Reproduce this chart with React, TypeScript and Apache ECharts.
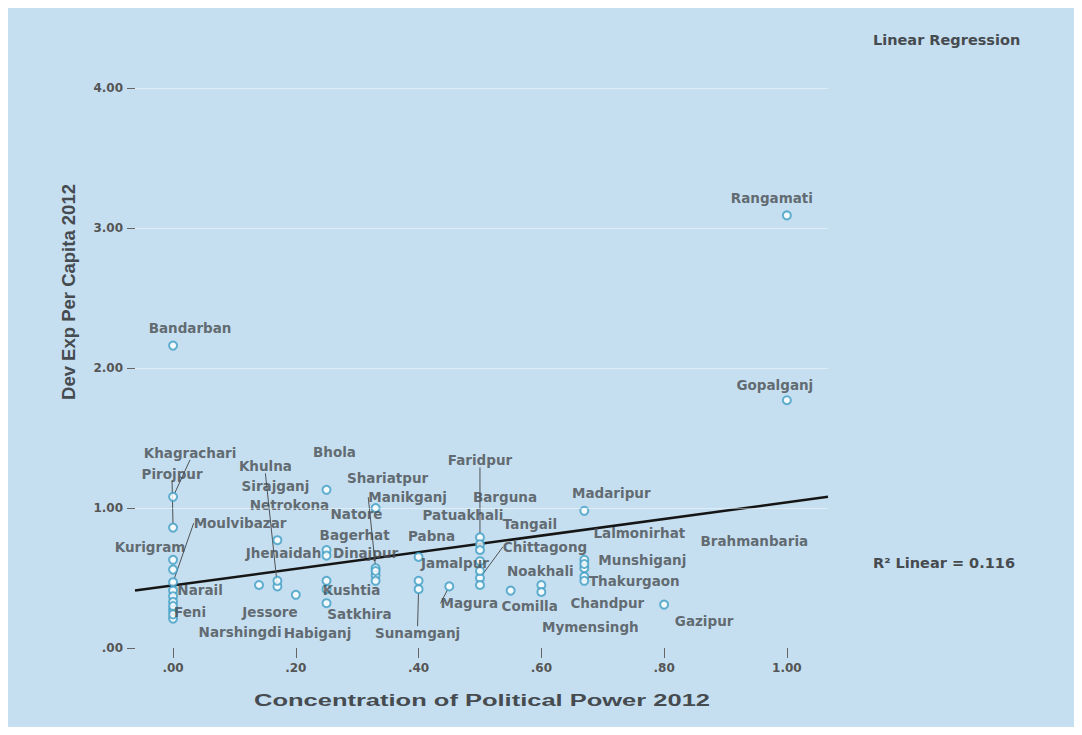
import React, { useEffect, useRef } from "react";
import * as echarts from "echarts";

// District names, x = concentration of political power, y = dev exp per capita
const districts = [
  "Bandarban", "Khagrachari", "Pirojpur", "Kurigram", "Moulvibazar", "", "Narail", "", "", "Feni", "", "Narshingdi", "",
  "Jessore", "Sirajganj", "Khulna", "Netrokona", "",
  "Bhola", "Natore", "Jhenaidah", "Kushtia", "Satkhira", "Habiganj",
  "Shariatpur", "Manikganj", "Bagerhat", "Dinajpur", "",
  "Pabna", "Sunamganj", "",
  "Magura",
  "Faridpur", "Patuakhali", "Barguna", "Tangail", "Chittagong", "Jamalpur", "",
  "Comilla", "Noakhali", "Mymensingh",
  "Madaripur", "Lalmonirhat", "Munshiganj", "Thakurgaon", "Brahmanbaria", "Chandpur",
  "Gazipur", "Rangamati", "Gopalganj",
];
const powerVals = [
  0, 0, 0, 0, 0, 0, 0, 0, 0, 0, 0, 0, 0,
  0.14, 0.17, 0.17, 0.17, 0.2,
  0.25, 0.25, 0.25, 0.25, 0.25, 0.25,
  0.33, 0.33, 0.33, 0.33, 0.33,
  0.4, 0.4, 0.4,
  0.45,
  0.5, 0.5, 0.5, 0.5, 0.5, 0.5, 0.5,
  0.55, 0.6, 0.6,
  0.67, 0.67, 0.67, 0.67, 0.67, 0.67,
  0.8, 1.0, 1.0,
];
const devExpVals = [
  2.16, 1.08, 0.86, 0.63, 0.47, 0.56, 0.41, 0.37, 0.33, 0.27, 0.30, 0.21, 0.24,
  0.45, 0.77, 0.44, 0.48, 0.38,
  1.13, 0.70, 0.66, 0.48, 0.42, 0.32,
  1.0, 0.57, 0.52, 0.48, 0.55,
  0.65, 0.42, 0.48,
  0.44,
  0.79, 0.74, 0.70, 0.62, 0.50, 0.45, 0.55,
  0.41, 0.45, 0.40,
  0.98, 0.63, 0.57, 0.51, 0.60, 0.48,
  0.31, 3.09, 1.77,
];
// Fit line end points
const fitLine = [[-0.062, 0.41], [1.067, 1.08]];
const xTicks = [0, 0.2, 0.4, 0.6, 0.8, 1];
const yTicks = [0, 1, 2, 3, 4];
const rSquared = "0.116";

// Label layout (offsets of label centre from point, px) and leader lines
const labelOffsets: Record<string, [number, number, boolean?]> = {
  Bandarban: [17, -18],
  Khagrachari: [17, -44, true],
  Pirojpur: [-1, -54, true],
  Kurigram: [-23, -13],
  Moulvibazar: [67, -59, true],
  Narail: [27, -1],
  Feni: [17, 2],
  Narshingdi: [67, 13],
  Jessore: [11, 27],
  Sirajganj: [-2, -54],
  Khulna: [-12, -120, true],
  Netrokona: [12, -76],
  Bhola: [8, -38],
  Natore: [30, -36],
  Jhenaidah: [-43, -3],
  Kushtia: [25, 9],
  Satkhira: [33, 25],
  Habiganj: [-9, 30],
  Shariatpur: [12, -30],
  Manikganj: [32, -71, true],
  Bagerhat: [-21, -40],
  Dinajpur: [-10, -28],
  Pabna: [13, -21],
  Sunamganj: [-1, 44, true],
  Magura: [20, 17, true],
  Faridpur: [0, -77, true],
  Patuakhali: [-17, -29],
  Barguna: [25, -53],
  Tangail: [50, -37],
  Chittagong: [65, -31, true],
  Jamalpur: [-25, -22],
  Comilla: [19, 15],
  Noakhali: [-1, -14],
  Mymensingh: [49, 35],
  Madaripur: [27, -18],
  Lalmonirhat: [55, -27],
  Munshiganj: [58, -8],
  Thakurgaon: [50, 4],
  Brahmanbaria: [170, -23],
  Chandpur: [23, 22],
  Gazipur: [40, 16],
  Rangamati: [-15, -17],
  Gopalganj: [-12, -15],
};

const BG = "#c5dff0";
const TXT = "#474b4f";
const FONT = "'DejaVu Sans', sans-serif";
const TFONT = "'Liberation Sans', Arial, sans-serif";

const fmt = (v: number) => {
  const s = v.toFixed(2);
  return Math.abs(v) < 1 ? s.replace(/^0/, "") : s;
};

export default function App() {
  const ref = useRef<HTMLDivElement>(null);
  useEffect(() => {
    if (!ref.current) return;
    const chart = echarts.init(ref.current, null, { renderer: "svg" });
    const pts = districts.map((name, i) => {
      const lo = labelOffsets[name];
      const item: any = { name, value: [powerVals[i], devExpVals[i]] };
      if (lo && lo[2]) item.labelLine = { show: true };
      return item;
    });
    const tickLabel = {
      color: "#555",
      fontSize: 12,
      fontWeight: "bold" as const,
      fontFamily: FONT,
      formatter: (v: number) => fmt(v),
    };
    chart.setOption({
      animation: false,
      backgroundColor: BG,
      textStyle: { fontFamily: FONT },
      grid: { left: 127, top: 32, width: 693, height: 608 },
      xAxis: {
        type: "value",
        min: -0.062,
        max: 1.067,
        axisLine: { show: false, onZero: false },
        splitLine: { show: false },
        axisTick: { show: true, customValues: xTicks, length: 10, lineStyle: { color: "#666" } },
        axisLabel: { ...tickLabel, customValues: xTicks, margin: 14 },
      },
      yAxis: {
        type: "value",
        min: 0,
        max: 4.343,
        axisLine: { show: false, onZero: false },
        splitLine: { show: false },
        axisTick: { show: true, customValues: yTicks, length: 8, lineStyle: { color: "#666" } },
        axisLabel: { ...tickLabel, customValues: yTicks, margin: 12 },
      },
      series: [
        {
          type: "line",
          data: fitLine,
          symbol: "none",
          lineStyle: { color: "#151515", width: 2.5 },
          z: 3,
          silent: true,
          markLine: {
            silent: true,
            symbol: "none",
            label: { show: false },
            lineStyle: { color: "rgba(255,255,255,0.45)", width: 1, type: "solid" },
            data: yTicks.filter((t) => t > 0).map((t) => ({ yAxis: t })),
          },
        },
        {
          type: "scatter",
          data: pts,
          symbol: "emptyCircle",
          symbolSize: 8,
          itemStyle: { color: "#3e9dc4", borderColor: "#3e9dc4", borderWidth: 1.3 },
          z: 4,
          label: {
            show: true,
            position: "inside",
            formatter: (p: any) => p.name,
            color: TXT,
            fontSize: 13.5,
            fontWeight: "bold",
            fontFamily: FONT,
          },
          labelLine: { show: false, lineStyle: { color: "#4d5256", width: 1 } },
          labelLayout: (params: any) => {
            const name = districts[params.dataIndex];
            const lo = labelOffsets[name] || [0, 0];
            return { dx: lo[0], dy: lo[1], hideOverlap: false };
          },
        },
      ],
      graphic: [
        {
          type: "text",
          x: 865,
          y: 32,
          style: { text: "Linear Regression", fill: TXT, font: `bold 14.5px ${FONT}`, textVerticalAlign: "middle" },
        },
        {
          type: "text",
          x: 865,
          y: 555,
          style: { text: `R² Linear = ${rSquared}`, fill: TXT, font: `bold 14.5px ${FONT}`, textVerticalAlign: "middle" },
        },
        {
          type: "text",
          x: 60,
          y: 284,
          rotation: Math.PI / 2,
          style: {
            text: "Dev Exp Per Capita 2012",
            fill: "#464b50",
            font: `bold 18.5px ${TFONT}`,
            textAlign: "center",
            textVerticalAlign: "middle",
          },
        },
        {
          type: "text",
          x: 474,
          y: 692,
          scaleX: 1.5,
          style: {
            text: "Concentration of Political Power 2012",
            fill: "#464b50",
            font: `bold 17px ${TFONT}`,
            textAlign: "center",
            textVerticalAlign: "middle",
          },
        },
      ],
    });
    return () => chart.dispose();
  }, []);
  return <div ref={ref} style={{ width: 1066, height: 719 }} />;
}
